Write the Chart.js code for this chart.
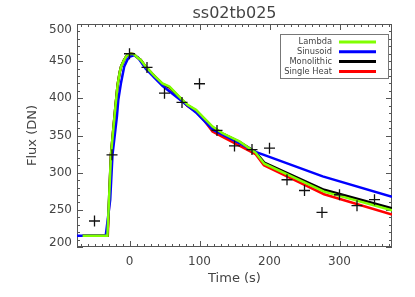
<!DOCTYPE html>
<html><head><meta charset="utf-8">
<script src="https://cdn.jsdelivr.net/npm/chart.js@4/dist/chart.umd.min.js"></script>
<style>html,body{margin:0;padding:0;background:#fff}#wrap{width:415px;height:297px}</style>
</head><body><div id="wrap"><canvas id="c" width="415" height="297"></canvas></div>
<script>
const chartTitle = 'ss02tb025';
const xTitle = 'Time (s)';
const yTitle = 'Flux (DN)';
const timeTicks = [0, 100, 200, 300];
const fluxTicks = [200, 250, 300, 350, 400, 450, 500];

const obsTime = [-50, -25, 0, 25, 50, 75, 100, 125, 150, 175, 200, 225, 250, 275, 300, 325, 350];
const obsFlux = [235, 324, 460, 441.6, 407, 394.5, 419.6, 356.8, 336, 331, 333, 290.5, 276, 246.5, 270.3, 255.6, 263.6];

const lambdaTime = [-67, -31.5, -26.5, -23, -20.5, -17, -14, -12, -8, -5, -2, 2, 6, 10, 16, 23.4, 35, 47, 57, 71, 83, 95, 107, 118.6, 133, 157, 180, 192.6, 278, 375];
const lambdaFlux = [215, 215, 324, 360, 385, 418, 435, 443, 451, 456, 459, 460, 459.5, 456, 451.6, 442.6, 431, 420, 415.8, 402.3, 391.2, 384.5, 373, 362, 353, 342, 327, 312, 274.5, 249.5];

const sinTime = [-75, -34, -27.6, -24.3, -18, -16, -12.3, -7.6, -3, 0, 6, 12, 23.4, 47, 71, 95, 119, 157, 180, 192, 276, 375];
const sinFlux = [215, 215, 263.5, 324, 375.5, 398, 420, 442.6, 452, 456, 458, 455, 439.6, 417, 399, 381, 357.6, 339.7, 328, 324, 295, 267.5];

const monoTime = [-67, -31.5, -26.5, -23, -20.5, -17, -14, -12, -8, -5, -2, 2, 6, 10, 16, 23.4, 35, 47, 57, 71, 83, 95, 107, 118.6, 133, 157, 180, 192.6, 278, 375];
const monoFlux = [215, 215, 324, 360, 385, 418, 435, 443, 451, 456, 459, 460, 459.5, 456, 451.6, 442, 430.5, 419.5, 415, 401.5, 390.5, 383.5, 372, 361, 352.5, 341.5, 328, 313.5, 277, 252];

const heatTime = [-67, -31, -26.5, -23, -20.5, -17, -14, -12, -8, -5, -2, 2, 6, 10, 16, 23.4, 35, 47, 57, 71, 83, 95, 107, 118.6, 133, 157, 180, 192, 278, 375];
const heatFlux = [215, 215, 324, 360, 385, 418, 435, 443, 451, 456, 459, 460, 459.5, 456, 451.6, 442, 430.5, 419, 414.5, 401, 389.5, 382, 370, 355.3, 348, 336.5, 325, 310, 271, 243.5];

const seriesNames = ['Lambda', 'Sinusoid', 'Monolithic', 'Single Heat'];
const seriesColors = ['#80ff00', '#0000ff', '#000000', '#ff0000'];

const pts = (xs, ys) => xs.map((x, i) => ({x: x, y: ys[i]}));

const textColor = '#444444';
const frameColor = '#555555';

const idlPlugin = {
  id: 'idl',
  beforeDatasetsDraw(chart) {
    const ctx = chart.ctx;
    const a = chart.chartArea;
    const xs = chart.scales.x, ys = chart.scales.y;
    ctx.save();
    ctx.strokeStyle = frameColor;
    ctx.lineWidth = 1;
    ctx.strokeRect(a.left + 0.5, a.top + 0.5, a.right - a.left - 1, a.bottom - a.top - 1);
    ctx.beginPath();
    // x ticks
    for (let v = Math.ceil(xs.min / 10) * 10; v <= xs.max; v += 10) {
      const px = Math.round(xs.getPixelForValue(v)) + 0.5;
      const len = (v % 100 === 0) ? 6 : 3;
      ctx.moveTo(px, a.bottom); ctx.lineTo(px, a.bottom - len);
      ctx.moveTo(px, a.top); ctx.lineTo(px, a.top + len);
    }
    for (let v = ys.min; v <= ys.max; v += 10) {
      const py = Math.round(ys.getPixelForValue(v)) + 0.5;
      const len = (v % 50 === 0) ? 6 : 3;
      ctx.moveTo(a.left, py); ctx.lineTo(a.left + len, py);
      ctx.moveTo(a.right, py); ctx.lineTo(a.right - len, py);
    }
    ctx.stroke();
    // tick labels
    ctx.fillStyle = textColor;
    ctx.font = '12px "DejaVu Sans"';
    ctx.textAlign = 'center';
    ctx.textBaseline = 'middle';
    timeTicks.forEach(v => {
      ctx.fillText(String(v), xs.getPixelForValue(v), a.bottom + 15);
    });
    ctx.textAlign = 'right';
    fluxTicks.forEach(v => {
      let py = ys.getPixelForValue(v);
      py = Math.min(Math.max(py, a.top + 6), a.bottom - 4);
      ctx.fillText(String(v), a.left - 5, py);
    });
    // title
    ctx.textAlign = 'center';
    ctx.font = '16px "DejaVu Sans"';
    ctx.fillText(chartTitle, (a.left + a.right) / 2, 14);
    ctx.restore();
  },
  afterDraw(chart) {
    const ctx = chart.ctx;
    const a = chart.chartArea;
    const bx0 = a.right - 112, bx1 = a.right - 3, by0 = a.top + 10, by1 = a.top + 55;
    ctx.save();
    ctx.fillStyle = '#ffffff';
    ctx.fillRect(bx0, by0, bx1 - bx0, by1 - by0);
    ctx.strokeStyle = '#777777';
    ctx.lineWidth = 1;
    ctx.strokeRect(bx0 + 0.5, by0 + 0.5, bx1 - bx0 - 1, by1 - by0 - 1);
    ctx.font = '8.3px "DejaVu Sans"';
    ctx.textAlign = 'right';
    ctx.textBaseline = 'middle';
    seriesNames.forEach((n, i) => {
      const y = by0 + 8 + i * 9.8;
      ctx.fillStyle = textColor;
      ctx.fillText(n, a.right - 60, y);
      ctx.strokeStyle = seriesColors[i];
      ctx.lineWidth = 3;
      ctx.beginPath();
      ctx.moveTo(a.right - 53, y); ctx.lineTo(a.right - 16, y);
      ctx.stroke();
    });
    ctx.restore();
  }
};

const lineDs = (i, data, order) => ({
  label: seriesNames[i], data: data, borderColor: seriesColors[i], backgroundColor: seriesColors[i],
  borderWidth: 2.5, pointRadius: 0, tension: 0, fill: false, order: order
});

new Chart(document.getElementById('c'), {
  type: 'line',
  data: {
    datasets: [
      {label: 'Observed', data: pts(obsTime, obsFlux), showLine: false, pointStyle: 'cross',
       pointRadius: 5.5, pointBorderWidth: 1.3, borderColor: '#111111', backgroundColor: '#111111', order: 0},
      lineDs(0, pts(lambdaTime, lambdaFlux), 1),
      lineDs(1, pts(sinTime, sinFlux), 2),
      lineDs(2, pts(monoTime, monoFlux), 3),
      lineDs(3, pts(heatTime, heatFlux), 4)
    ]
  },
  options: {
    responsive: false,
    animation: false,
    devicePixelRatio: 1,
    layout: {padding: {top: 24, right: 23, left: 0, bottom: 0}, autoPadding: false},
    plugins: {legend: {display: false}, tooltip: {enabled: false}, title: {display: false}},
    scales: {
      x: {
        type: 'linear', min: -75, max: 375,
        grid: {display: false, drawTicks: false},
        border: {display: false},
        ticks: {display: false},
        afterBuildTicks: s => { s.ticks = timeTicks.map(v => ({value: v})); },
        afterFit: s => { s.height = 50; },
        title: {display: true, text: xTitle, color: textColor, font: {family: 'DejaVu Sans', size: 13}, padding: {top: 0, bottom: 11}}
      },
      y: {
        type: 'linear', min: 200, max: 500,
        grid: {display: false, drawTicks: false},
        border: {display: false},
        ticks: {display: false},
        afterBuildTicks: s => { s.ticks = fluxTicks.map(v => ({value: v})); },
        afterFit: s => { s.width = 77; },
        title: {display: true, text: yTitle, color: textColor, font: {family: 'DejaVu Sans', size: 13}, padding: {top: 25, bottom: 0}}
      }
    }
  },
  plugins: [idlPlugin]
});
</script>
</body></html>
